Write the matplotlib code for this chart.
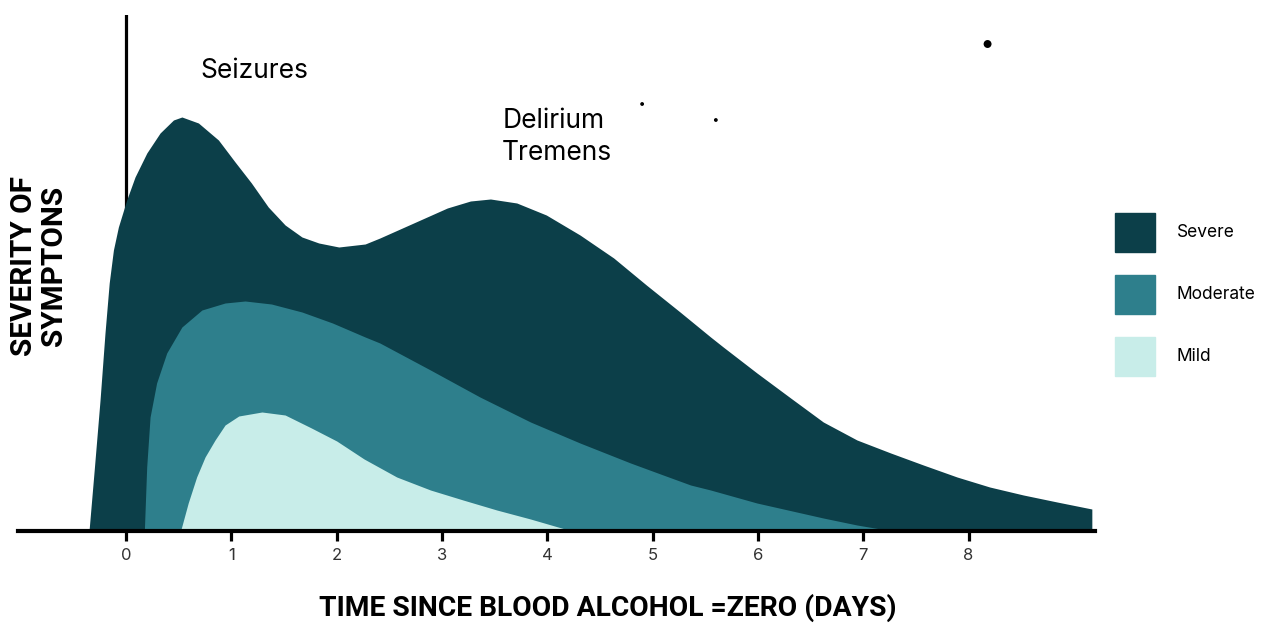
import matplotlib.pyplot as plt
from matplotlib.patches import Patch

# severity curves (days, relative severity)
severe_days = [-0.351, -0.30, -0.247, -0.20, -0.16, -0.12, -0.073, 0.006, 0.085, 0.197, 0.323,
               0.45, 0.53, 0.687, 0.877, 1.035, 1.19, 1.35, 1.51, 1.67, 1.83, 2.02, 2.27, 2.41,
               2.73, 3.05, 3.27, 3.46, 3.71, 3.99, 4.31, 4.63, 4.94, 5.26, 5.55, 5.67, 5.99,
               6.31, 6.62, 6.94, 7.26, 7.57, 7.89, 8.2, 8.52, 8.84, 9.17]
severe_vals = [1, 64, 131, 198, 248, 281, 304, 331, 354, 378, 398,
               411, 414, 408, 391, 369, 348, 324, 306, 294, 288, 284, 287, 293,
               308, 323, 330, 332, 328, 316, 296, 273, 246, 219, 194, 184, 158,
               133, 109, 91, 78, 66, 54, 44, 36, 29, 22]

moderate_days = [0.174, 0.196, 0.228, 0.29, 0.386, 0.53, 0.72, 0.94, 1.13, 1.38, 1.67, 1.96,
                 2.27, 2.41, 2.89, 3.36, 3.84, 4.31, 4.79, 5.10, 5.36, 5.55, 5.99, 6.62, 6.94, 7.22]
moderate_vals = [1, 64, 114, 148, 178, 204, 221, 228, 230, 227, 219, 208,
                 194, 188, 161, 134, 109, 88, 68, 56, 46, 41, 28, 13, 6, 1]

mild_days = [0.52, 0.59, 0.67, 0.75, 0.845, 0.94, 1.07, 1.29, 1.51, 1.76, 2.0, 2.26, 2.57,
             2.89, 3.2, 3.52, 3.84, 4.2]
mild_vals = [1, 28, 54, 74, 91, 106, 115, 119, 116, 103, 90, 72, 54,
             41, 31, 21, 12, 1]

day_ticks = [0, 1, 2, 3, 4, 5, 6, 7, 8]
legend_names = ['Severe', 'Moderate', 'Mild']
colors = ['#0c3f49', '#2e7f8c', '#c8ede9']

# stray dots in the original image
dot_x = [8.18, 4.9, 5.6]
dot_y = [487, 427, 411]
dot_size = [22, 3, 3]

W, H = 1262, 623
fig = plt.figure(figsize=(W / 100, H / 100), dpi=100)
ax = fig.add_axes([18 / W, (H - 531) / H, (1095 - 18) / W, (531 - 15) / H])

ax.axvline(0, color='black', lw=2.3, zorder=1)
ax.fill_between(severe_days, severe_vals, color=colors[0], lw=0, zorder=2)
ax.fill_between(moderate_days, moderate_vals, color=colors[1], lw=0, zorder=3)
ax.fill_between(mild_days, mild_vals, color=colors[2], lw=0, zorder=4)
ax.scatter(dot_x, dot_y, s=dot_size, color='black', zorder=5, clip_on=False)

ax.set_xlim(-1.026, 9.2)
ax.set_ylim(0, 516)
for s in ['top', 'right', 'left']:
    ax.spines[s].set_visible(False)
ax.spines['bottom'].set_linewidth(3)
ax.spines['bottom'].set_zorder(6)
ax.set_yticks([])
ax.set_xticks(day_ticks)
ax.tick_params(axis='x', length=7.5, width=2.3, color='black', labelsize=12,
               labelcolor='#333333', pad=5)
for lab in ax.get_xticklabels():
    lab.set_family(['Inter', 'DejaVu Sans'])
ax.patch.set_alpha(0)

note_font = ['Inter', 'DejaVu Sans']
ax.text(0.703, 453, 'Seizures', fontsize=19, family=note_font, va='baseline')
ax.text(3.571, 403, 'Delirium', fontsize=19, family=note_font, va='baseline')
ax.text(3.571, 371, 'Tremens', fontsize=19, family=note_font, va='baseline')

title_font = ['Roboto', 'DejaVu Sans']
fig.text(608 / W, 1 - 608 / H, 'TIME SINCE BLOOD ALCOHOL =ZERO (DAYS)', ha='center', va='center',
         fontsize=20.3, fontweight='bold', family=title_font)
fig.text(39 / W, 1 - 266 / H, 'SEVERITY OF\nSYMPTONS', ha='center', va='center', rotation=90,
         fontsize=21.4, fontweight='bold', family=title_font, linespacing=1.12)

handles = [Patch(color=c) for c in colors]
fig.legend(handles, legend_names, loc='upper left', bbox_to_anchor=(1115 / W, 1 - 213 / H),
           frameon=False, borderpad=0, borderaxespad=0,
           prop={'family': ['Inter', 'DejaVu Sans'], 'size': 12.5},
           handlelength=2.3, handleheight=3.07, handletextpad=1.27, labelspacing=1.33)

fig.savefig('out.png', dpi=100)
